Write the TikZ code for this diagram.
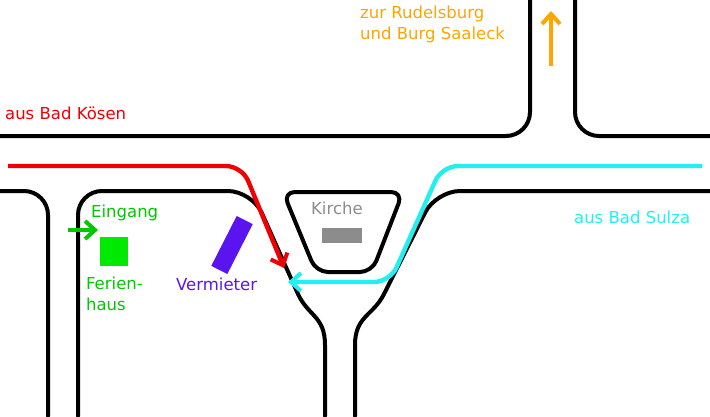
\documentclass[tikz,border=0pt]{standalone}
\usepackage{fontspec}
\setmainfont{DejaVu Sans}
\usetikzlibrary{arrows.meta}
\definecolor{routered}{HTML}{F00000}
\definecolor{routecyan}{HTML}{22F0F0}
\definecolor{routeorange}{HTML}{FFA500}
\definecolor{housegreen}{HTML}{00C800}
\definecolor{landlord}{HTML}{5A14F0}
\definecolor{church}{HTML}{8C8C8C}

\tikzset{
	road/.style={line width=2mm, line join=round, line cap=round, rounded corners=12mm},
	route/.style={line width=2.2mm, rounded corners=8mm, -{Straight Barb[length=5mm,width=9mm,line width=2mm]}},
	label/.style={font=\fontsize{23.5}{29}\selectfont, align=left, inner sep=0pt}
}

\begin{document}
\begin{tikzpicture}[x=0.05cm, y=-0.05cm]
	\useasboundingbox (0, 0) rectangle (710, 416);

	% roads
	\draw[road] (0, 136) -- (530, 136) -- (530, 0);
	\draw[road] (575, 0) -- (575, 136) -- (710, 136);
	\draw[road] (0, 191) -- (48, 191) -- (48, 416);
	\draw[road] (78, 416) -- (78, 191) -- (252, 191) -- (298, 294);
	\draw[road, sharp corners] (298, 294) .. controls (308, 316) and (325, 316) .. (325, 345) -- (325, 416);
	\draw[road, sharp corners] (355, 416) -- (355, 345) .. controls (355, 316) and (373, 316) .. (384, 294);
	\draw[road] (384, 294) -- (436, 191) -- (710, 191);
	\draw[road, rounded corners=6mm] (283, 192) -- (403, 192) -- (372, 272) -- (316, 272) -- cycle;

	% routes
	\draw[route, routered] (8, 166) -- (242, 166) -- (284, 268);
	\draw[route, routecyan] (702, 166) -- (442, 166) -- (390, 282) -- (288, 282);
	\draw[route, routeorange, rounded corners=0] (551, 66) -- (551, 11);
	\draw[route, housegreen, rounded corners=0, line width=1.6mm] (68, 230) -- (98, 230);

	% buildings
	\fill[housegreen!40!green] (100, 237) rectangle (128, 266);
	\fill[church] (322, 228) rectangle (362, 243);
	\fill[landlord, rotate around={-27:(232, 245)}] (223, 217) rectangle (241, 273);

	% labels
	\node[label, text=routered, anchor=north west] (koesen) at (5, 107) {aus Bad Kösen};
	\node[label, text=routeorange, anchor=north west] (rudelsburg) at (360, 6) {zur Rudelsburg\\und Burg Saaleck};
	\node[label, text=routecyan, anchor=north west] (sulza) at (574, 211) {aus Bad Sulza};
	\node[label, text=church, anchor=north west] (kirche) at (311, 202) {Kirche};
	\node[label, text=housegreen, anchor=north west] (eingang) at (91, 205) {Eingang};
	\node[label, text=housegreen, anchor=north west] (ferienhaus) at (86, 277) {Ferien-\\haus};
	\node[label, text=landlord, anchor=north west] (vermieter) at (176, 278) {Vermieter};
\end{tikzpicture}
\end{document}
